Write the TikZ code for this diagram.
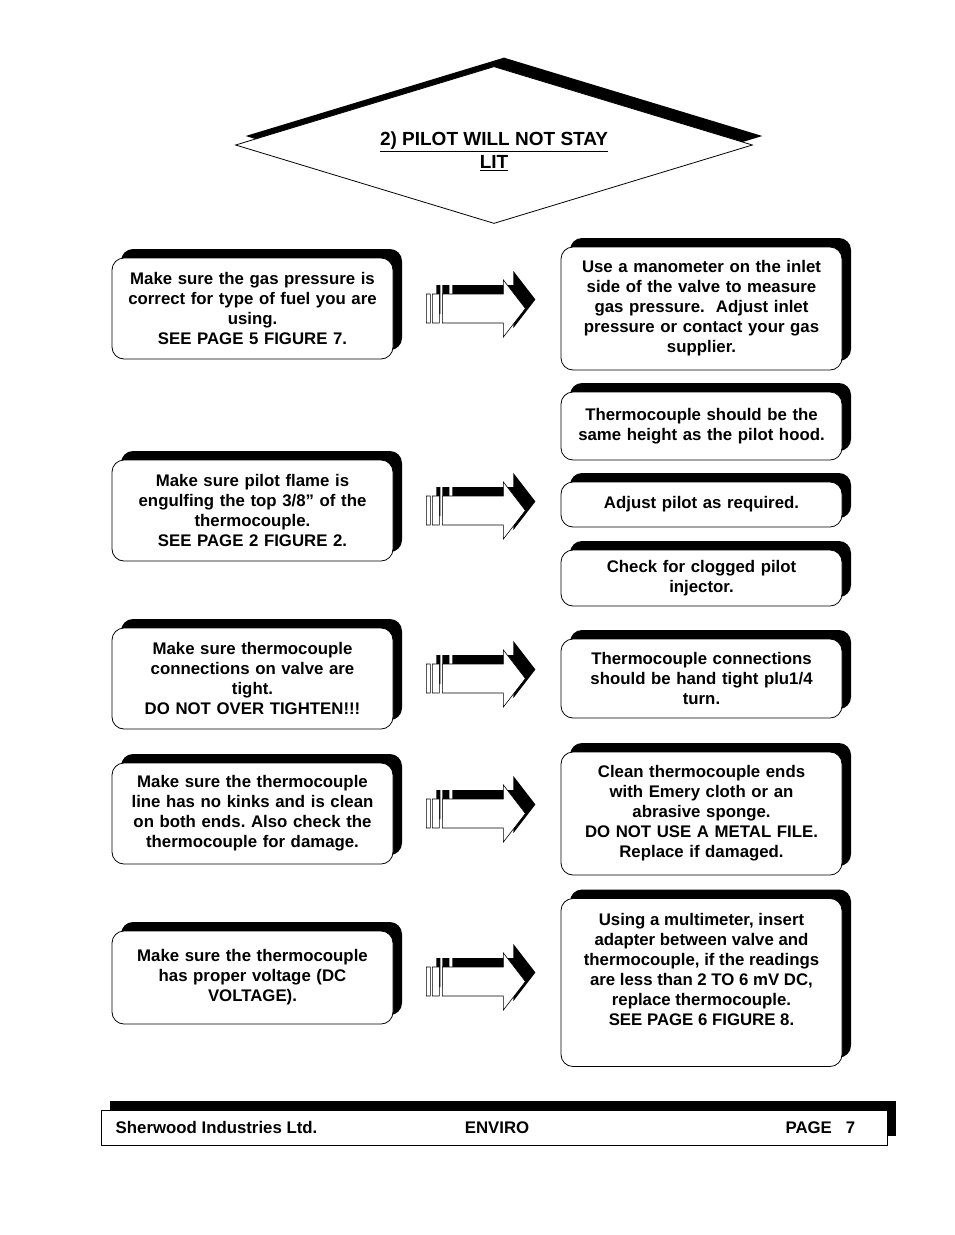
\documentclass[tikz,border=0pt]{standalone}
\usepackage{fontspec}
\setmainfont{Liberation Sans}
\frenchspacing
\usetikzlibrary{shapes.geometric, shadows, positioning, calc}

\begin{document}
\begin{tikzpicture}[x=1pt, y=-1pt, line width=0.8pt,
                    txt/.style={font=\fontsize{16.8}{20}\selectfont\bfseries, align=center},
                    stepbox/.style={txt, draw, fill=white, rounded corners=12pt, minimum width=281pt,
                                    text width=274pt, inner sep=0pt,
                                    general shadow={fill=black, shadow xshift=9pt, shadow yshift=9pt}},
                    titlebox/.style={draw, fill=white, diamond, aspect=3.3, inner sep=0pt,
                                     minimum width=517pt, minimum height=157pt,
                                     general shadow={fill=black, shadow xshift=10pt, shadow yshift=9pt}},
                    footbox/.style={draw, fill=white, rectangle, minimum width=786pt, minimum height=35pt,
                                    inner sep=0pt,
                                    general shadow={fill=black, shadow xshift=9pt, shadow yshift=9pt}},
                    pics/blockarrow/.style={code={
                        \fill[black, shift={(10,-9)}] (0,-14.5) rectangle (4,14.5) (6,-14.5) rectangle (13,14.5)
                            (16,-14.5) -- (77,-14.5) -- (77,-28.5) -- (99,0) -- (77,28.5) -- (77,14.5) -- (16,14.5) -- cycle;
                        \draw[fill=white, line width=0.6pt] (0,-14.5) rectangle (4,14.5) (6,-14.5) rectangle (13,14.5)
                            (16,-14.5) -- (77,-14.5) -- (77,-28.5) -- (99,0) -- (77,28.5) -- (77,14.5) -- (16,14.5) -- cycle;
                    }}]
                    \useasboundingbox (0,0) rectangle (954,1235);

                    % Title
                    \node[titlebox] (title) at (494,145) {};
                    \node[txt, font=\fontsize{19}{23}\selectfont\bfseries] (titletext) at (494,151)
                        {\underline{2) PILOT WILL NOT STAY}\\\underline{LIT}};

                    % Checks (left column)
                    \node[stepbox, minimum height=101pt] (l1) at (252.5,308.5)
                        {Make sure the gas pressure is\\correct for type of fuel you are\\using.\\SEE PAGE 5 FIGURE 7.};
                    \node[stepbox, minimum height=101pt] (l2) at (252.5,510.5)
                        {Make sure pilot flame is\\engulfing the top 3/8” of the\\thermocouple.\\SEE PAGE 2 FIGURE 2.};
                    \node[stepbox, minimum height=101pt] (l3) at (252.5,678.5)
                        {Make sure thermocouple\\connections on valve are\\tight.\\DO NOT OVER TIGHTEN!!!};
                    \node[stepbox, minimum height=101pt] (l4) at (252.5,813.5)
                        {Make sure the thermocouple\\line has no kinks and is clean\\on both ends. Also check the\\thermocouple for damage.};
                    \node[stepbox, minimum height=93pt] (l5) at (252.5,977.5)
                        {Make sure the thermocouple\\has proper voltage (DC\\VOLTAGE).};

                    % Remedies (right column)
                    \node[stepbox, minimum height=123pt] (r1) at (701.5,308.5)
                        {Use a manometer on the inlet\\side of the valve to measure\\gas pressure.\ \ Adjust inlet\\pressure or contact your gas\\supplier.};
                    \node[stepbox, minimum height=68pt] (r2) at (701.5,426)
                        {Thermocouple should be the\\same height as the pilot hood.};
                    \node[stepbox, minimum height=45pt] (r3) at (701.5,504.5)
                        {Adjust pilot as required.};
                    \node[stepbox, minimum height=56pt] (r4) at (701.5,578)
                        {Check for clogged pilot\\injector.};
                    \node[stepbox, minimum height=79pt] (r5) at (701.5,678.5)
                        {Thermocouple connections\\should be hand tight plu1/4\\turn.};
                    \node[stepbox, minimum height=123pt] (r6) at (701.5,813.5)
                        {Clean thermocouple ends\\with Emery cloth or an\\abrasive sponge.\\DO NOT USE A METAL FILE.\\Replace if damaged.};
                    \node[stepbox, minimum height=168pt] (r7) at (701.5,982.5) {};
                    \node[txt] (r7text) at ([yshift=13pt]r7.center)
                        {Using a multimeter, insert\\adapter between valve and\\thermocouple, if the readings\\are less than 2 TO 6 mV DC,\\replace thermocouple.\\SEE PAGE 6 FIGURE 8.};

                    % Block arrows
                    \pic at ([xshift=33pt]l1.east) {blockarrow};
                    \pic at ([xshift=33pt]l2.east) {blockarrow};
                    \pic at ([xshift=33pt]l3.east) {blockarrow};
                    \pic at ([xshift=33pt]l4.east) {blockarrow};
                    \pic at ([xshift=33pt,yshift=-4pt]l5.east) {blockarrow};

                    % Footer
                    \node[footbox] (footer) at (494,1127.5) {};
                    \node[txt, anchor=base west] (company) at (112,1133) {Sherwood Industries Ltd.};
                    \node[txt, anchor=base] (model) at (497,1133) {ENVIRO};
                    \node[txt, anchor=base east] (page) at (859,1133) {PAGE\ \ \ 7};

                \end{tikzpicture}
\end{document}
